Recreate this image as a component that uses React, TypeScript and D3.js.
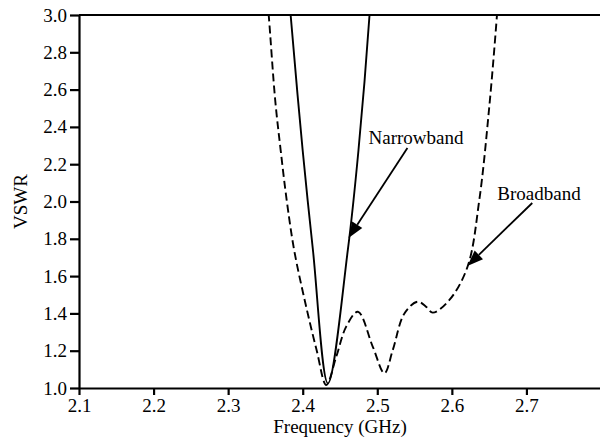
import React, { useEffect, useRef } from "react";
import * as d3 from "d3";

// broadband antenna (dashed)
const broadFreq = [
  2.35, 2.3544, 2.3631, 2.3704, 2.3785, 2.3885, 2.4026, 2.4186, 2.4316, 2.445,
  2.4583, 2.474, 2.494, 2.5096, 2.5208, 2.5364, 2.554, 2.5654, 2.5743, 2.5967,
  2.621, 2.6368, 2.65, 2.6605, 2.663,
];
const broadVswr = [
  3.2, 3.0, 2.544, 2.276, 2.008, 1.74, 1.472, 1.204, 1.016, 1.168, 1.329,
  1.409, 1.221, 1.079, 1.204, 1.4, 1.463, 1.436, 1.404, 1.472, 1.65, 2.008,
  2.5, 3.0, 3.15,
];

// narrowband antenna (solid)
const narrowFreq = [2.382, 2.3838, 2.3999, 2.4137, 2.4338, 2.4605, 2.4748, 2.4896, 2.491];
const narrowVswr = [3.1, 3.0, 2.276, 1.74, 1.025, 1.74, 2.276, 3.0, 3.1];

const xTicks = [2.1, 2.2, 2.3, 2.4, 2.5, 2.6, 2.7];
const yTicks = [1.0, 1.2, 1.4, 1.6, 1.8, 2.0, 2.2, 2.4, 2.6, 2.8, 3.0];

// annotation: label position, arrow start, arrow tip (data units)
const notes = [
  { label: "Narrowband", tx: 2.4882, ty: 2.308, fx: 2.5404, fy: 2.287, px: 2.4614, py: 1.804 },
  { label: "Broadband", tx: 2.661, ty: 2.008, fx: 2.7078, fy: 1.992, px: 2.6208, py: 1.654 },
];

const FONT = "Liberation Serif";
const FS = 19;

const App: React.FC = () => {
  const ref = useRef<SVGSVGElement | null>(null);

  useEffect(() => {
    const svg = d3.select(ref.current);
    svg.selectAll("*").remove();

    const width = 600;
    const height = 442;
    const margin = { top: 15, left: 79, bottom: 54 };
    const plotRight = 601;

    const x = d3.scaleLinear().domain([2.1, 2.8]).range([margin.left, plotRight]);
    const y = d3.scaleLinear().domain([1.0, 3.0]).range([height - margin.bottom, margin.top]);

    svg.append("rect").attr("width", width).attr("height", height).attr("fill", "#fff");

    svg
      .append("defs")
      .append("clipPath")
      .attr("id", "plot-clip")
      .append("rect")
      .attr("x", margin.left)
      .attr("y", margin.top)
      .attr("width", plotRight - margin.left)
      .attr("height", height - margin.bottom - margin.top);

    const line = d3
      .line<[number, number]>()
      .x((d) => x(d[0]))
      .y((d) => y(d[1]))
      .curve(d3.curveCatmullRom.alpha(0.5));

    const g = svg.append("g").attr("clip-path", "url(#plot-clip)");

    g.append("path")
      .datum(broadFreq.map((f, i) => [f, broadVswr[i]] as [number, number]))
      .attr("fill", "none")
      .attr("stroke", "#000")
      .attr("stroke-width", 1.9)
      .attr("stroke-dasharray", "8,4")
      .attr("d", line);

    g.append("path")
      .datum(narrowFreq.map((f, i) => [f, narrowVswr[i]] as [number, number]))
      .attr("fill", "none")
      .attr("stroke", "#000")
      .attr("stroke-width", 1.9)
      .attr("d", line);

    // axes
    const xAxis = svg
      .append("g")
      .attr("transform", `translate(0,${height - margin.bottom})`)
      .call(
        d3
          .axisBottom(x)
          .tickValues(xTicks)
          .tickFormat(d3.format(".1f"))
          .tickSize(7)
          .tickSizeOuter(0)
          .tickPadding(4)
      );

    const yAxis = svg
      .append("g")
      .attr("transform", `translate(${margin.left},0)`)
      .call(
        d3
          .axisLeft(y)
          .tickValues(yTicks)
          .tickFormat(d3.format(".1f"))
          .tickSize(9)
          .tickSizeOuter(0)
          .tickPadding(3)
      );

    [xAxis, yAxis].forEach((a) => {
      a.attr("font-family", FONT).attr("font-size", FS);
      a.select(".domain").attr("stroke-width", 2.2);
      a.selectAll(".tick line").attr("stroke-width", 2.2);
      a.selectAll("text").attr("fill", "#000");
    });

    svg
      .append("line")
      .attr("x1", margin.left)
      .attr("x2", width)
      .attr("y1", margin.top)
      .attr("y2", margin.top)
      .attr("stroke", "#000")
      .attr("stroke-width", 2.2);

    svg
      .append("text")
      .attr("x", (margin.left + plotRight) / 2)
      .attr("y", 433)
      .attr("text-anchor", "middle")
      .attr("font-family", FONT)
      .attr("font-size", FS)
      .text("Frequency (GHz)");

    svg
      .append("text")
      .attr("transform", `translate(27,${(margin.top + height - margin.bottom) / 2}) rotate(-90)`)
      .attr("text-anchor", "middle")
      .attr("font-family", FONT)
      .attr("font-size", FS)
      .text("VSWR");

    // annotations with arrows
    notes.forEach((n) => {
      svg
        .append("text")
        .attr("x", x(n.tx))
        .attr("y", y(n.ty))
        .attr("font-family", FONT)
        .attr("font-size", FS)
        .text(n.label);

      const x1 = x(n.fx);
      const y1 = y(n.fy);
      const x2 = x(n.px);
      const y2 = y(n.py);
      const ang = Math.atan2(y2 - y1, x2 - x1);
      const headLen = 16;
      const headW = 6;
      const bx = x2 - headLen * Math.cos(ang);
      const by = y2 - headLen * Math.sin(ang);

      svg
        .append("line")
        .attr("x1", x1)
        .attr("y1", y1)
        .attr("x2", bx)
        .attr("y2", by)
        .attr("stroke", "#000")
        .attr("stroke-width", 1.8);

      svg
        .append("path")
        .attr(
          "d",
          `M${x2},${y2}L${bx + headW * Math.sin(ang)},${by - headW * Math.cos(ang)}L${
            bx - headW * Math.sin(ang)
          },${by + headW * Math.cos(ang)}Z`
        )
        .attr("fill", "#000");
    });
  }, []);

  return (
    <svg
      ref={ref}
      width={600}
      height={442}
      style={{ position: "absolute", left: 0, top: 0 }}
    />
  );
};

export default App;
